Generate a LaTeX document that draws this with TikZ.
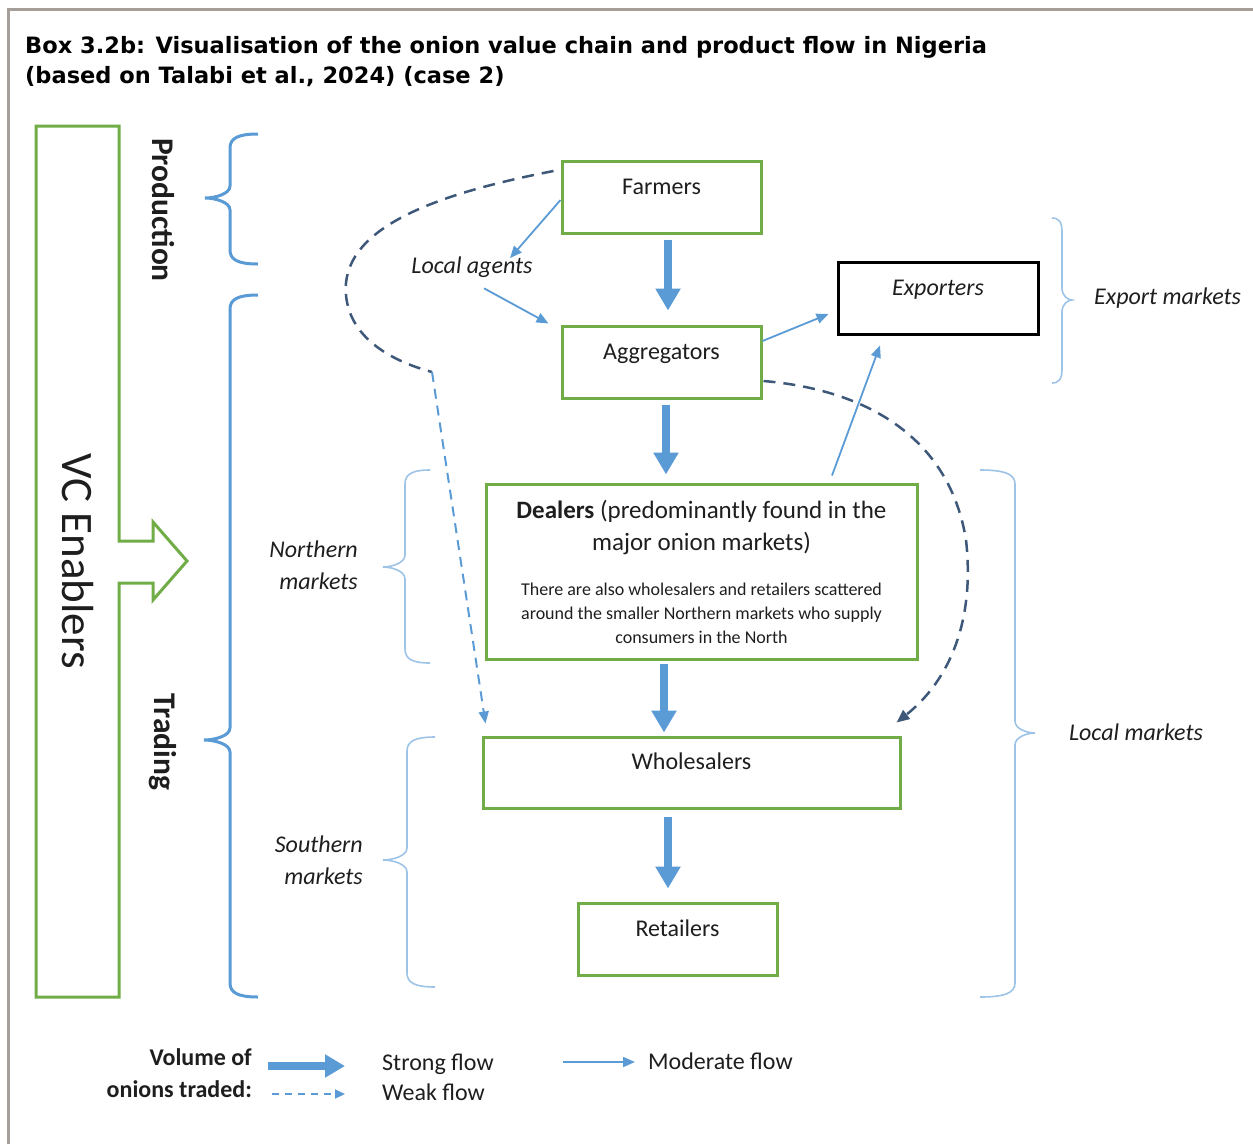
\documentclass[tikz,border=0pt]{standalone}
\usepackage{fontspec}
\setmainfont{Carlito}
\newfontfamily\titlefont{DejaVu Sans}
\usetikzlibrary{arrows.meta,calc}
\definecolor{frameg}{RGB}{166,158,152}
\definecolor{boxg}{RGB}{112,173,71}
\definecolor{flowb}{RGB}{91,155,213}
\definecolor{brkb}{RGB}{157,195,230}
\definecolor{weakd}{RGB}{62,88,122}
\definecolor{txtc}{RGB}{30,30,30}
\newcommand\myfs[2]{\fontsize{#1}{#2}\selectfont}
% brace: options, x-end, x-line, x-tip, y-top, y-tip, y-bottom
\newcommand\mybrace[7][]{%
  \draw[#1] (#2,#5) .. controls ({#3+0.3*(#2-#3)},#5) and (#3,{#5+4}) .. (#3,{#5+14})
    -- (#3,{#6-12}) .. controls (#3,{#6-4}) and ({#4+0.4*(#3-#4)},#6) .. (#4,#6)
    .. controls ({#4+0.4*(#3-#4)},#6) and (#3,{#6+4}) .. (#3,{#6+12})
    -- (#3,{#7-14}) .. controls (#3,{#7-4}) and ({#3+0.3*(#2-#3)},#7) .. (#2,#7);}
\begin{document}
\begin{tikzpicture}[x=1pt,y=-1pt,
  box/.style={draw=boxg, line width=3pt, minimum width=199pt, minimum height=72pt,
    text height=17pt, text depth=23pt, font=\myfs{24}{29}, text=txtc},
  txt/.style={inner sep=0pt, font=\myfs{24}{29}, text=txtc},
  txti/.style={inner sep=0pt, font=\myfs{24}{32}\itshape, text=txtc},
  txtb/.style={inner sep=0pt, font=\myfs{24}{29}\bfseries, text=txtc},
  strong/.style={draw=flowb, line width=8pt, -{Triangle[length=22pt,width=24pt]}},
  moderate/.style={draw=flowb, line width=1.8pt, -{Triangle[length=12pt,width=10pt]}},
  weakdark/.style={draw=weakd, line width=2.5pt, dash pattern=on 12pt off 8pt},
  weaklight/.style={draw=flowb, line width=2pt, dash pattern=on 10pt off 7pt},
  bigbrace/.style={draw=flowb, line width=3pt},
  smallbrace/.style={draw=brkb, line width=1.6pt},
  titlestyle/.style={inner sep=0pt, anchor=base west, font=\titlefont\bfseries\myfs{22.5}{30}, text=black},
]
\useasboundingbox (0,0) rectangle (1253,1144);
% frame
\draw[frameg, line width=3pt] (8,1144) -- (8,9.5) -- (1253,9.5);
% title
\node[titlestyle] (title1) at (25,53)
  {Box 3.2b: Visualisation of the onion value chain and product flow in Nigeria};
\node[titlestyle] (title2) at (25,83)
  {(based on Talabi et al., 2024) (case 2)};
% VC enablers block arrow
\draw[boxg, line width=3pt] (36,126) -- (119,126) -- (119,541) -- (153,541) -- (153,522) -- (187,561)
  -- (153,600) -- (153,583) -- (119,583) -- (119,997) -- (36,997) -- cycle;
\node[inner sep=0pt, rotate=-90, font=\myfs{45}{52}, text=txtc] (vce) at (78,561) {VC Enablers};
% stage labels and braces
\node[txtb, rotate=-90, font=\myfs{31.5}{36}\bfseries] (prod) at (163,210) {Production};
\node[txtb, rotate=-90, font=\myfs{31.5}{36}\bfseries] (trad) at (163,742) {Trading};
\mybrace[bigbrace]{258}{230}{205}{134}{198}{264}
\mybrace[bigbrace]{258}{230}{204}{295}{740}{997}
\mybrace[smallbrace]{1052}{1062}{1072}{218}{300}{383}
\mybrace[smallbrace]{980}{1015}{1035}{470}{733}{997}
\mybrace[smallbrace]{430}{405}{383}{470}{567}{663}
\mybrace[smallbrace]{435}{407}{383}{737}{860}{987}
% market labels
\node[txti, anchor=base west] (expm) at (1094,304) {Export markets};
\node[txti, anchor=base] (locm) at (1136,740) {Local markets};
\node[txti, anchor=east, align=right] (northm) at (358,565) {Northern\\markets};
\node[txti, anchor=east, align=right] (southm) at (363,860) {Southern\\markets};
% actors
\node[box] (farm) at (661.5,197) {Farmers};
\node[box] (agg) at (661.5,362) {Aggregators};
\node[box, draw=black, minimum width=200pt, font=\myfs{24}{29}\itshape] (exp) at (938,298) {Exporters};
\node[box, minimum width=431pt, minimum height=175pt, text height=0pt, text depth=0pt] (deal) at (701.5,571.5) {};
\node[txt, align=center, font=\myfs{25}{32}] (dealtxt) at (701.5,527) {\textbf{Dealers} (predominantly found in the\\major onion markets)};
\node[txt, align=center, font=\myfs{18}{24}] (dealnote) at (701.5,613) {There are also wholesalers and retailers scattered\\around the smaller Northern markets who supply\\consumers in the North};
\node[box, minimum width=417pt, minimum height=71pt] (whole) at (691.5,772.5) {Wholesalers};
\node[box] (ret) at (677.5,939) {Retailers};
\node[txti, anchor=base] (la) at (472,273) {Local agents};
% strong flows
\draw[strong] ($(farm.south)+(6.5,5)$) -- ($(agg.north)+(6.5,-14)$);
\draw[strong] ($(agg.south)+(4.5,5)$) -- ($(deal.north)+(-35.5,-8)$);
\draw[strong] ($(deal.south)+(-37.5,3)$) -- ($(whole.north)+(-27.5,-3)$);
\draw[strong] ($(whole.south)+(-23.5,7)$) -- ($(ret.north)+(-9.5,-13)$);
% moderate flows
\draw[moderate] ($(farm.west)+(0,3)$) -- ($(la.north)+(38,2)$);
\draw[moderate] ($(la.south)+(12,11)$) -- ($(agg.north west)+(-12,-1)$);
\draw[moderate] ($(agg.east)+(0,-21)$) -- ($(exp.west)+(-8,16)$);
\draw[moderate] ($(deal.north)+(130.5,-7)$) -- ($(exp.south)+(-58,10)$);
% weak flows
\coordinate (bendL) at (432,372);
\draw[weakdark] ($(farm.west)+(-7,-26)$) .. controls (430,195) and (340,230) .. (346,295)
  .. controls (350,340) and (395,362) .. (bendL);
\draw[weaklight, -{Triangle[length=12pt,width=10pt]}] (bendL) -- ($(whole.north west)+(4,-12)$);
\draw[weakdark, -{Triangle[length=13pt,width=11pt]}] ($(agg.east)+(1,19)$) .. controls (870,390) and (950,440) .. (966,540)
  .. controls (975,620) and (950,680) .. ($(whole.north east)+(-5,-13)$);
% legend
\node[txtb, anchor=base east] (vol1) at (252,1065) {Volume of};
\node[txtb, anchor=base east] (vol2) at (252,1097) {onions traded:};
\coordinate (lgs1) at (268,1066);
\coordinate (lgs2) at (345,1066);
\coordinate (lgw1) at (272,1094);
\coordinate (lgw2) at (345,1094);
\coordinate (lgm1) at (563,1062);
\coordinate (lgm2) at (635,1062);
\draw[draw=flowb, line width=8pt, -{Triangle[length=20pt,width=22pt]}] (lgs1) -- (lgs2);
\draw[draw=flowb, line width=2pt, dash pattern=on 7pt off 6pt, -{Triangle[length=10pt,width=9pt]}] (lgw1) -- (lgw2);
\draw[moderate] (lgm1) -- (lgm2);
\node[txt, anchor=base west] (lstrong) at (382,1070) {Strong flow};
\node[txt, anchor=base west] (lweak) at (382,1100) {Weak flow};
\node[txt, anchor=base west] (lmod) at (648,1069) {Moderate flow};
\end{tikzpicture}
\end{document}
